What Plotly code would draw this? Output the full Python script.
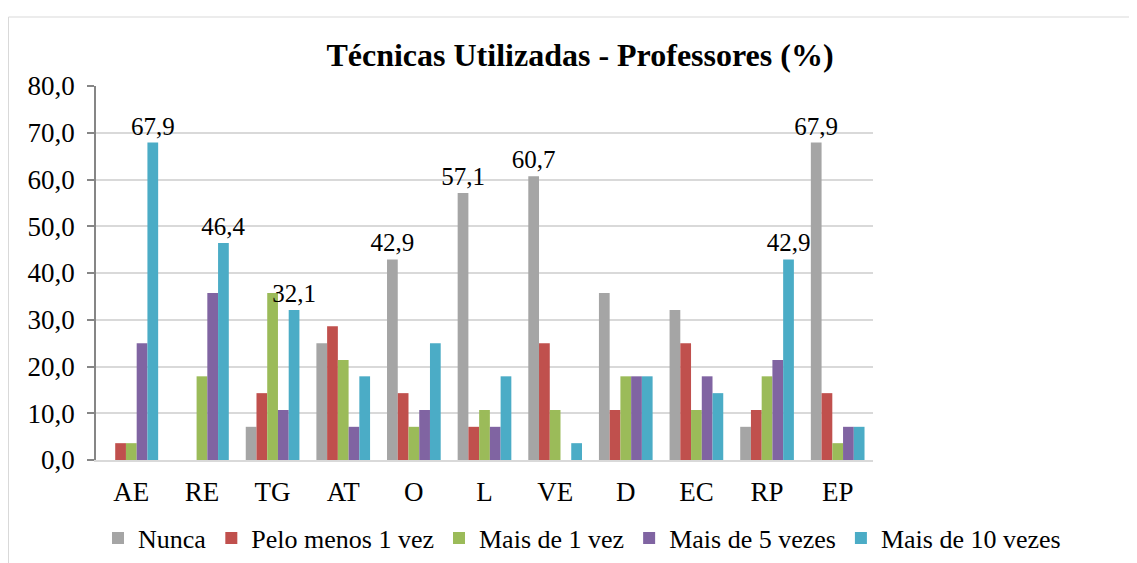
import plotly.graph_objects as go

categories = ["AE", "RE", "TG", "AT", "O", "L", "VE", "D", "EC", "RP", "EP"]
series_names = ["Nunca", "Pelo menos 1 vez", "Mais de 1 vez", "Mais de 5 vezes", "Mais de 10 vezes"]
nunca = [0.0, 0.0, 7.1, 25.0, 42.9, 57.1, 60.7, 35.7, 32.1, 7.1, 67.9]
pelo_menos_1 = [3.6, 0.0, 14.3, 28.6, 14.3, 7.1, 25.0, 10.7, 25.0, 10.7, 14.3]
mais_1 = [3.6, 17.9, 35.7, 21.4, 7.1, 10.7, 10.7, 17.9, 10.7, 17.9, 3.6]
mais_5 = [25.0, 35.7, 10.7, 7.1, 10.7, 7.1, 0.0, 17.9, 17.9, 21.4, 7.1]
mais_10 = [67.9, 46.4, 32.1, 17.9, 25.0, 17.9, 3.6, 17.9, 14.3, 42.9, 7.1]
# which values carry a data label (1 = shown)
label_nunca = [0, 0, 0, 0, 1, 1, 1, 0, 0, 0, 1]
label_pelo = [0] * 11
label_m1 = [0] * 11
label_m5 = [0] * 11
label_m10 = [1, 1, 1, 0, 0, 0, 0, 0, 0, 1, 0]
y_ticks = [0, 10, 20, 30, 40, 50, 60, 70, 80]
y_tick_labels = ["0,0", "10,0", "20,0", "30,0", "40,0", "50,0", "60,0", "70,0", "80,0"]

colors = ["#A5A5A5", "#C0504D", "#9BBB59", "#8064A2", "#4BACC6"]
values = [nunca, pelo_menos_1, mais_1, mais_5, mais_10]
labels = [label_nunca, label_pelo, label_m1, label_m5, label_m10]

FONT = "Liberation Serif"

fig = go.Figure()
for name, vals, lab, col in zip(series_names, values, labels, colors):
    txt = [f"{v:.1f}".replace(".", ",") if l else "" for v, l in zip(vals, lab)]
    fig.add_trace(go.Bar(
        name=name,
        x=categories, y=vals, marker=dict(color=col, line=dict(width=0)),
        text=txt, textposition="outside", constraintext="none", cliponaxis=False,
        textfont=dict(family=FONT, size=25, color="black"),
    ))

# page body has an 8px margin: figure coordinates = screen coordinates - 8
OFF = 8
W, H = 1137, 563
L, T = 96 - OFF, 86 - OFF
B = H - (460 - OFF)
R = W - (873 - OFF)
pw, ph = W - L - R, H - T - B

def px(x):
    return (x - OFF - L) / pw

def py(y):
    return (H - B - (y - OFF)) / ph

fig.update_layout(
    width=W, height=H,
    margin=dict(l=L, r=R, t=T, b=B, pad=0, autoexpand=False),
    paper_bgcolor="white", plot_bgcolor="white",
    barmode="group", bargap=0.24, bargroupgap=0,
    font=dict(family=FONT, size=27, color="black"),
    title=dict(text="<b>Técnicas Utilizadas - Professores (%)</b>",
               x=572 / W, xanchor="center", y=1 - 47 / H, yanchor="middle",
               font=dict(family=FONT, size=32, color="black")),
    xaxis=dict(showgrid=False, ticks="", tickfont=dict(family=FONT, size=27, color="black"),
               showline=True, linecolor="#d9d9d9", linewidth=1.5, ticklabelstandoff=7),
    yaxis=dict(range=[0, 80], tickvals=y_ticks, ticktext=y_tick_labels,
               showgrid=True, gridcolor="#d9d9d9", gridwidth=1.5,
               showline=True, linecolor="#868686", linewidth=1.5,
               ticks="outside", ticklen=7, tickcolor="#868686", tickwidth=1.5,
               ticklabelstandoff=7,
               tickfont=dict(family=FONT, size=27, color="black"), zeroline=False),
    legend=dict(orientation="h", x=px(1066), xanchor="right",
                y=py(538), yanchor="middle",
                font=dict(family=FONT, size=26, color="black"),
                traceorder="normal", bgcolor="rgba(0,0,0,0)"),
    shapes=[dict(type="rect", xref="paper", yref="paper",
                 x0=px(8.5), x1=1.5, y0=-1, y1=py(17),
                 line=dict(color="#d9d9d9", width=1), fillcolor="rgba(0,0,0,0)", layer="below")],
)

fig.write_html("out.html")
